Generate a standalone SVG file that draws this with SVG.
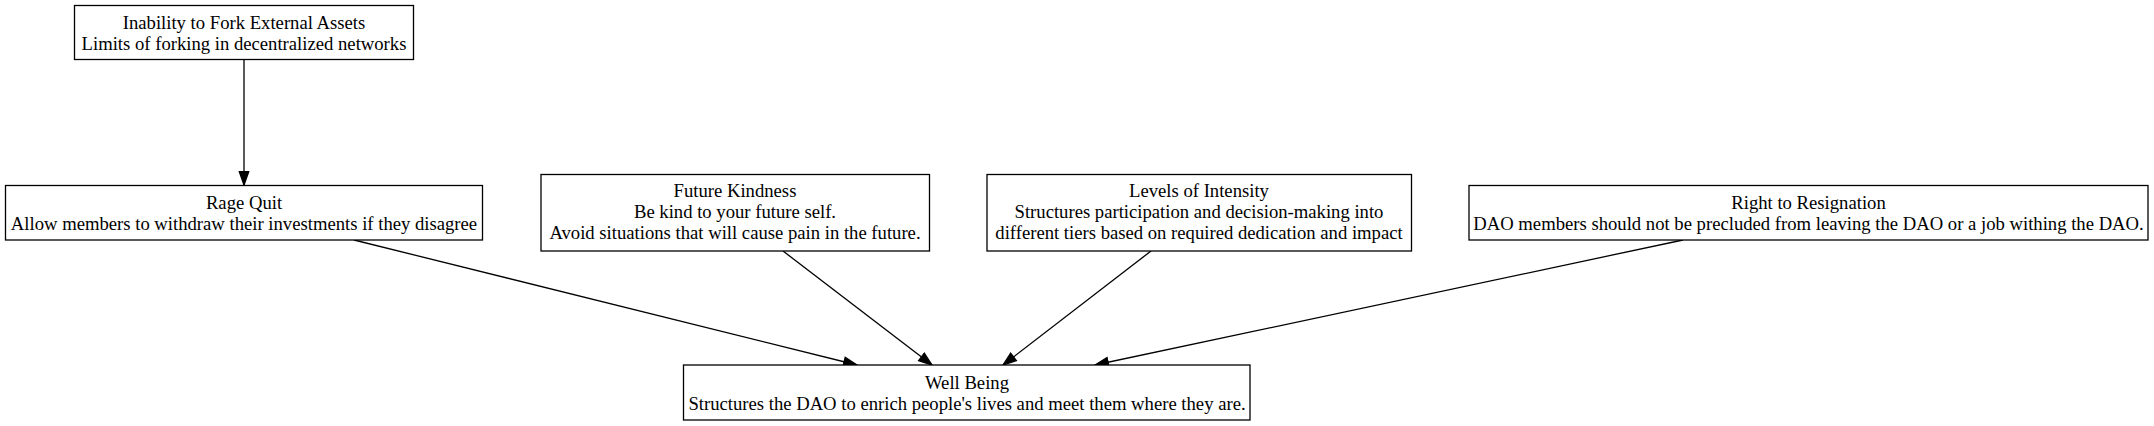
<svg xmlns="http://www.w3.org/2000/svg" width="2154" height="426" viewBox="0 0 2154 426">
<style>
.box{fill:#fff;stroke:#000;stroke-width:1.3}
.t{font-family:"Liberation Serif","Times New Roman",serif;font-size:18.67px;text-anchor:middle;fill:#000}
.e{stroke:#000;stroke-width:1.3;fill:none}
</style>
<defs>
<marker id="ah" markerUnits="userSpaceOnUse" viewBox="-1 -6 16 12" markerWidth="16" markerHeight="12" refX="13.3" refY="0" orient="auto">
<path d="M0,-4.7 L13.3,0 L0,4.7 Z" fill="#000" stroke="#000" stroke-width="1.3"/>
</marker>
</defs>
<rect width="2154" height="426" fill="#fff"/>
<g id="edges">
<line class="e" x1="244" y1="59.5" x2="244" y2="185" marker-end="url(#ah)"/>
<line class="e" x1="354" y1="240" x2="857" y2="365" marker-end="url(#ah)"/>
<line class="e" x1="783" y1="251" x2="932" y2="365" marker-end="url(#ah)"/>
<line class="e" x1="1151" y1="251" x2="1003" y2="365" marker-end="url(#ah)"/>
<line class="e" x1="1683" y1="240" x2="1095" y2="365" marker-end="url(#ah)"/>
</g>
<g id="inability">
<rect class="box" x="74.5" y="5.5" width="339" height="54"/>
<text class="t" x="244" y="28.5">Inability to Fork External Assets</text>
<text class="t" x="244" y="50">Limits of forking in decentralized networks</text>
</g>
<g id="rage_quit">
<rect class="box" x="5.5" y="185.5" width="477" height="54.5"/>
<text class="t" x="244" y="208.5">Rage Quit</text>
<text class="t" x="244" y="230">Allow members to withdraw their investments if they disagree</text>
</g>
<g id="future_kindness">
<rect class="box" x="541" y="174.5" width="388.5" height="76.5"/>
<text class="t" x="735" y="196.5">Future Kindness</text>
<text class="t" x="735" y="217.5">Be kind to your future self.</text>
<text class="t" x="735" y="238.5">Avoid situations that will cause pain in the future.</text>
</g>
<g id="levels_of_intensity">
<rect class="box" x="987" y="174.5" width="424.5" height="76.5"/>
<text class="t" x="1199" y="196.5">Levels of Intensity</text>
<text class="t" x="1199" y="217.5">Structures participation and decision-making into</text>
<text class="t" x="1199" y="238.5">different tiers based on required dedication and impact</text>
</g>
<g id="right_to_resignation">
<rect class="box" x="1469" y="185.5" width="679" height="54.5"/>
<text class="t" x="1808.5" y="208.5">Right to Resignation</text>
<text class="t" x="1808.5" y="230">DAO members should not be precluded from leaving the DAO or a job withing the DAO.</text>
</g>
<g id="well_being">
<rect class="box" x="683.5" y="365" width="566.5" height="55"/>
<text class="t" x="967" y="389">Well Being</text>
<text class="t" x="967" y="410">Structures the DAO to enrich people's lives and meet them where they are.</text>
</g>
</svg>
